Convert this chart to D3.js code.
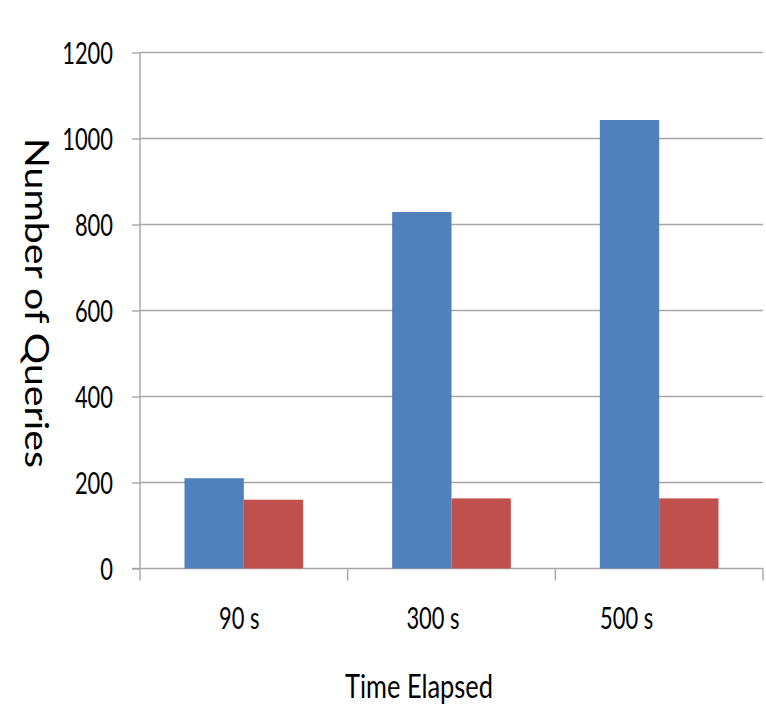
<!DOCTYPE html>
<html>
<head>
<meta charset="utf-8">
<script src="https://cdn.jsdelivr.net/npm/d3@7"></script>
<style>
  html, body { margin: 0; padding: 0; background: #fff; }
  svg { display: block; }
  text { font-family: Lato, "Open Sans", sans-serif; fill: #000; }
</style>
</head>
<body>
<script>
// Chart data
const categories = ["90 s", "300 s", "500 s"];
const seriesNames = ["Series 1", "Series 2"];
const series1 = [210, 829, 1043];
const series2 = [160, 163, 163];
const yTicks = [0, 200, 400, 600, 800, 1000, 1200];
const xTitle = "Time Elapsed";
const yTitle = "Number of Queries";
const colors = ["#4f81bd", "#c0504d"];

const W = 766, H = 711;
const plotLeft = 140, plotRight = 763, plotTop = 52.5, plotBottom = 568.5;
const gridColor = "#a6a6a6";
const squeeze = 0.73;   // condensed look of the labels

const svg = d3.select("body").append("svg")
  .attr("width", W).attr("height", H);

const y = d3.scaleLinear().domain([0, 1200]).range([plotBottom, plotTop]);
const x0 = d3.scaleBand().domain(categories).range([plotLeft, plotRight]).padding(0);
const x1 = d3.scaleBand().domain(seriesNames).range([0, x0.bandwidth()])
  .paddingInner(0).paddingOuter(0.75);
// label positions along the bottom
const xLab = d3.scaleBand().domain(categories).range([142.5, 723.5]).padding(0);

// gridlines
svg.append("g").selectAll("line")
  .data(yTicks.filter(d => d > 0))
  .join("line")
  .attr("x1", plotLeft).attr("x2", plotRight)
  .attr("y1", d => y(d)).attr("y2", d => y(d))
  .attr("stroke", gridColor).attr("stroke-width", 1.4);

// left axis with ticks
const yAxis = svg.append("g")
  .attr("transform", `translate(${plotLeft},0)`)
  .call(d3.axisLeft(y).tickValues(yTicks).tickSize(8).tickPadding(0).tickFormat(d3.format("d")));
yAxis.select(".domain").remove();
yAxis.selectAll(".tick line").attr("stroke", gridColor).attr("stroke-width", 1.4);
yAxis.selectAll(".tick text")
  .attr("font-size", 30)
  .attr("font-family", "Lato, 'Open Sans', sans-serif")
  .attr("fill", "#000")
  .attr("x", -27 / squeeze)
  .attr("dy", "0.36em")
  .attr("transform", `scale(${squeeze},1)`);
yAxis.append("line")
  .attr("x1", 0).attr("x2", 0)
  .attr("y1", plotTop).attr("y2", plotBottom + 12)
  .attr("stroke", gridColor).attr("stroke-width", 1.4);

// bottom axis line and category separators
svg.append("line")
  .attr("x1", plotLeft - 8).attr("x2", plotRight)
  .attr("y1", plotBottom).attr("y2", plotBottom)
  .attr("stroke", gridColor).attr("stroke-width", 1.4);
const seps = categories.map(c => x0(c) + x0.bandwidth());
svg.append("g").selectAll("line")
  .data(seps)
  .join("line")
  .attr("x1", d => d).attr("x2", d => d)
  .attr("y1", plotBottom).attr("y2", plotBottom + 12)
  .attr("stroke", gridColor).attr("stroke-width", 1.4);

// bars
const rows = categories.map((c, i) => ({ cat: c, vals: [series1[i], series2[i]] }));
const groups = svg.append("g").selectAll("g")
  .data(rows)
  .join("g")
  .attr("transform", d => `translate(${x0(d.cat)},0)`);
groups.selectAll("rect")
  .data(d => d.vals.map((v, k) => ({ name: seriesNames[k], v, k })))
  .join("rect")
  .attr("x", d => x1(d.name))
  .attr("width", x1.bandwidth())
  .attr("y", d => y(d.v))
  .attr("height", d => y(0) - y(d.v))
  .attr("fill", d => colors[d.k]);

// category labels
svg.append("g").selectAll("g")
  .data(categories)
  .join("g")
  .attr("transform", d => `translate(${xLab(d) + xLab.bandwidth() / 2},629) scale(${squeeze},1)`)
  .append("text")
  .attr("text-anchor", "middle")
  .attr("font-size", 30)
  .text(d => d);

// axis titles
svg.append("g")
  .attr("transform", "translate(419,698) scale(0.77,1)")
  .append("text")
  .attr("text-anchor", "middle")
  .attr("font-size", 33)
  .text(xTitle);

svg.append("text")
  .attr("transform", "translate(25,303) rotate(90)")
  .attr("text-anchor", "middle")
  .attr("font-size", 33)
  .attr("textLength", 330)
  .attr("lengthAdjust", "spacingAndGlyphs")
  .text(yTitle);
</script>
</body>
</html>
